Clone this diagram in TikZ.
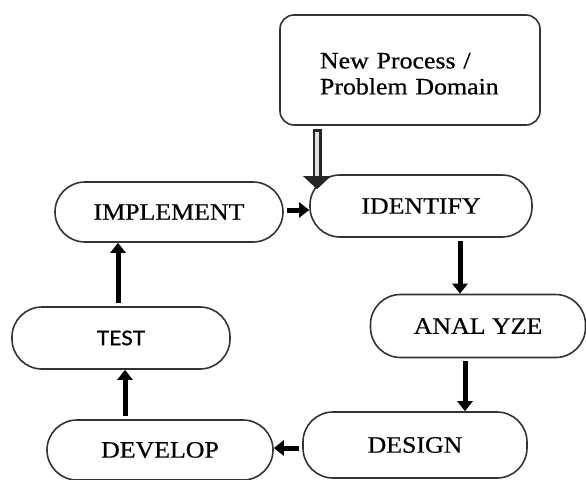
\documentclass[tikz,border=0pt]{standalone}
\usepackage{fontspec}
\setmainfont[FakeBold=0.6,FakeStretch=1.1]{Liberation Serif}
\newfontfamily\testfont[FakeBold=1,FakeStretch=1.05]{Lato}
\usetikzlibrary{arrows.meta,calc}
\begin{document}
\begin{tikzpicture}[x=1pt,y=-1pt,
  stage/.style={draw=black!80, line width=1.6pt, rounded corners=30pt, inner sep=0pt,
    font=\fontsize{23.5}{26}\selectfont},
  arr/.style={line width=5pt, -{Triangle[length=10pt,width=15pt]}, shorten <=3pt},
  dblout/.style={line width=9pt, black!85, -{Triangle[length=13pt,width=27pt]}},
  dblin/.style={line width=4pt, black!12}]
\useasboundingbox (0,0) rectangle (586,479);
\node[draw=black!80, line width=1.6pt, rounded corners=14pt, minimum width=260pt, minimum height=110pt,
  align=left, font=\fontsize{23.5}{26}\selectfont, text width=180pt, text height=23pt] (np) at (410,70) {New Process /\\Problem Domain};
\node[stage, minimum width=222pt, minimum height=62pt] (iden) at (421,206) {IDENTIFY};
\node[stage, minimum width=228pt, minimum height=60pt] (impl) at (169,212) {IMPLEMENT};
\node[stage, minimum width=218pt, minimum height=62pt, font=\testfont\fontsize{20}{24}\selectfont] (test) at (121,338) {TEST};
\node[stage, minimum width=226pt, minimum height=60pt] (dev) at (160,450) {DEVELOP};
\node[stage, minimum width=215pt, minimum height=63pt] (ana) at (478,326) {ANAL YZE};
\node[stage, minimum width=224pt, minimum height=66pt] (des) at (415,445) {DESIGN};
\coordinate (dtop) at ($(np.south -| 317,0)+(0,3)$);
\coordinate (dend) at ($(iden.north -| 317,0)+(0,15)$);
\coordinate (dmid) at ($(dend)+(0,-13)$);
\draw[dblout] (dtop) -- (dend);
\draw[dblin] ($(dtop)+(0,3)$) -- (dmid);
\draw[arr] (impl.east |- 0,210) -- (iden.west |- 0,210);
\draw[arr] (iden.south -| 460,0) -- (ana.north -| 460,0);
\draw[arr] (ana.south -| 465,0) -- (des.north -| 465,0);
\draw[arr] (des.west |- 0,448) -- (dev.east |- 0,448);
\draw[arr] (dev.north -| 125,0) -- (test.south -| 125,0);
\draw[arr] (test.north -| 118,0) -- (impl.south -| 118,0);
\end{tikzpicture}
\end{document}
